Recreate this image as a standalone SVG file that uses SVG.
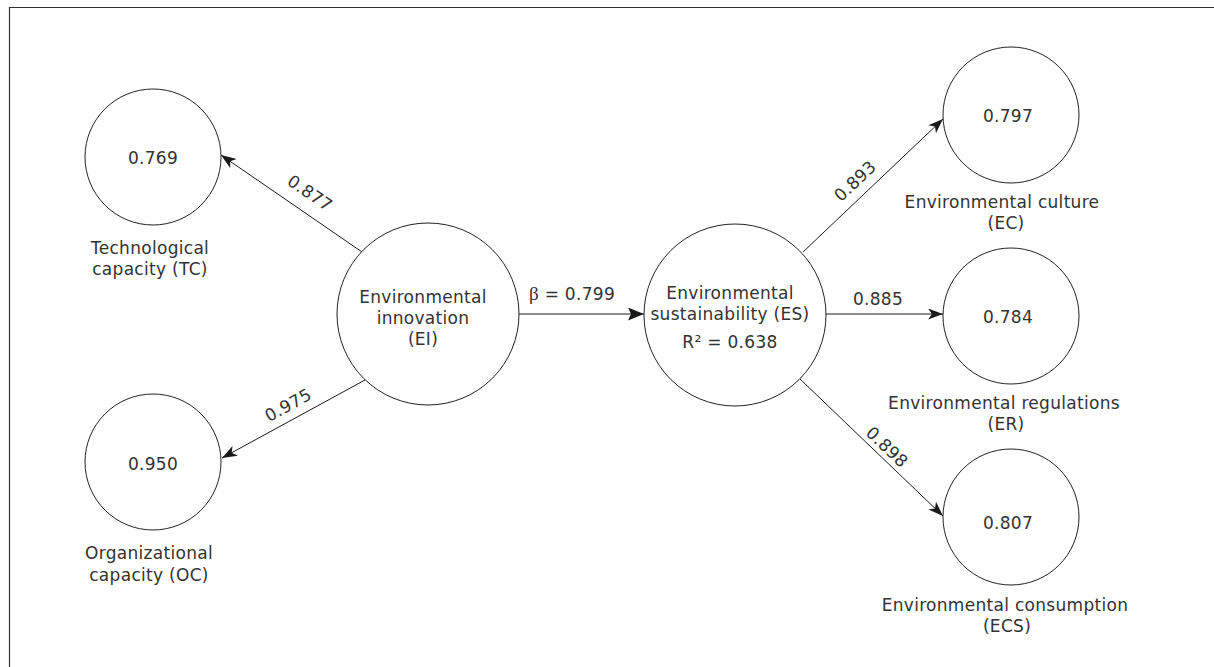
<svg xmlns="http://www.w3.org/2000/svg" width="1214" height="667" viewBox="0 0 1214 667">
<defs>
<marker id="arr" viewBox="0 0 15 11" refX="15" refY="5.5" markerWidth="15" markerHeight="11" markerUnits="userSpaceOnUse" orient="auto">
<path d="M0,0 L15,5.5 L0,11 L4,5.5 Z" fill="#1a1a1a"/>
</marker>
<marker id="arrB" viewBox="0 0 16 13" refX="16" refY="6.5" markerWidth="16" markerHeight="13" markerUnits="userSpaceOnUse" orient="auto">
<path d="M0,0 L16,6.5 L0,13 L3,6.5 Z" fill="#1a1a1a"/>
</marker>
<style>
.c{fill:#fff;stroke:#222;stroke-width:1}
.t{font-family:"DejaVu Sans","Open Sans",sans-serif;font-size:17px;fill:#333;text-anchor:middle;letter-spacing:0.3px}
.e{stroke:#1a1a1a;stroke-width:1;fill:none}
.g{font-family:"Liberation Serif",serif;font-size:19px}
</style>
</defs>
<rect width="1214" height="667" fill="#fff"/>
<path d="M9.5,667 V7.5 H1214" fill="none" stroke="#333" stroke-width="1.2"/>
<g id="connectors">
<line class="e" x1="362" y1="252" x2="221" y2="155" marker-end="url(#arr)"/>
<line class="e" x1="365" y1="380" x2="222" y2="458" marker-end="url(#arr)"/>
<line class="e" x1="519" y1="314" x2="644" y2="314" stroke-width="2" marker-end="url(#arrB)"/>
<line class="e" x1="825" y1="314" x2="943" y2="314" marker-end="url(#arr)"/>
<line class="e" x1="803" y1="252" x2="943" y2="119" marker-end="url(#arr)"/>
<line class="e" x1="800" y1="379" x2="943" y2="516" marker-end="url(#arr)"/>
<text class="t" transform="translate(310,193) rotate(34.5)" dy="6">0.877</text>
<text class="t" transform="translate(288,405) rotate(-28.8)" dy="6">0.975</text>
<text class="t" x="572" y="300"><tspan class="g">β</tspan> = 0.799</text>
<text class="t" x="878" y="305">0.885</text>
<text class="t" transform="translate(855,181) rotate(-43.5)" dy="6">0.893</text>
<text class="t" transform="translate(887,447) rotate(43.6)" dy="6">0.898</text>
</g>
<g id="TC">
<circle class="c" cx="153" cy="157" r="68"/>
<text class="t" x="153" y="164">0.769</text>
<text class="t" x="150" y="254">Technological</text>
<text class="t" x="150" y="275">capacity (TC)</text>
</g>
<g id="OC">
<circle class="c" cx="153" cy="462" r="68"/>
<text class="t" x="153" y="470">0.950</text>
<text class="t" x="149" y="559">Organizational</text>
<text class="t" x="149" y="581">capacity (OC)</text>
</g>
<g id="EI">
<circle class="c" cx="428" cy="314" r="91"/>
<text class="t" x="423" y="303">Environmental</text>
<text class="t" x="423" y="324">innovation</text>
<text class="t" x="423" y="345">(EI)</text>
</g>
<g id="ES">
<circle class="c" cx="735" cy="315" r="91"/>
<text class="t" x="730" y="299">Environmental</text>
<text class="t" x="730" y="320">sustainability (ES)</text>
<text class="t" x="730" y="348">R² = 0.638</text>
</g>
<g id="EC">
<circle class="c" cx="1011" cy="115" r="68"/>
<text class="t" x="1008" y="122">0.797</text>
<text class="t" x="1002" y="208">Environmental culture</text>
<text class="t" x="1006" y="229">(EC)</text>
</g>
<g id="ER">
<circle class="c" cx="1011" cy="316" r="68"/>
<text class="t" x="1008" y="323">0.784</text>
<text class="t" x="1004" y="409">Environmental regulations</text>
<text class="t" x="1006" y="430">(ER)</text>
</g>
<g id="ECS">
<circle class="c" cx="1011" cy="517" r="68"/>
<text class="t" x="1008" y="529">0.807</text>
<text class="t" x="1005" y="611">Environmental consumption</text>
<text class="t" x="1007" y="632">(ECS)</text>
</g>
</svg>
